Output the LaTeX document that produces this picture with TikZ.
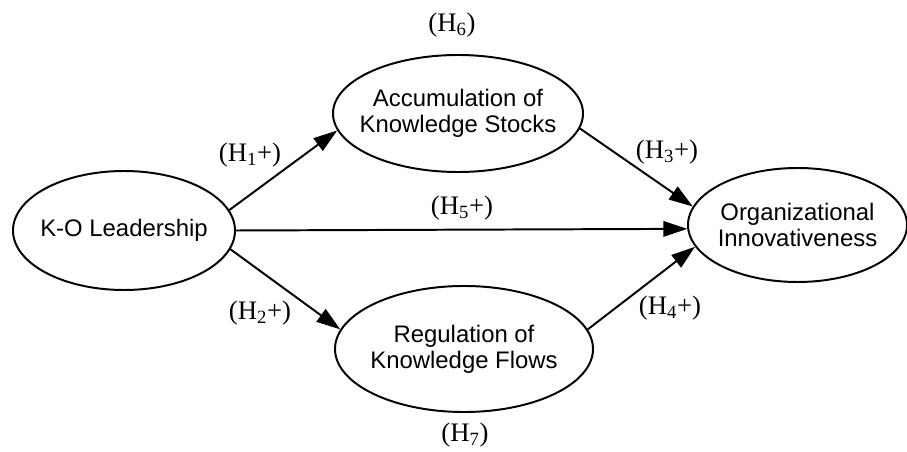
\documentclass[tikz,border=0pt]{standalone}
\usepackage{fontspec}
\setmainfont{Liberation Serif}
\setsansfont{Liberation Sans}
\usetikzlibrary{arrows.meta,shapes.geometric}

\tikzset{
    oval/.style={ellipse, draw, line width=1.4pt, inner sep=0pt},
    ovaltext/.style={align=center, font=\sffamily\fontsize{17}{18.5}\selectfont},
    hyp/.style={inner sep=0pt, font=\fontsize{19}{21}\selectfont},
    link/.style={line width=1.4pt, -{Triangle[length=17pt,width=11pt]}},
}

\begin{document}
\begin{tikzpicture}[x=0.025cm,y=-0.025cm]
    \pgfmathsetmacro{\px}{0.025}
    % Define centres
    \coordinate (cK) at (124,230.5);
    \coordinate (cA) at (458,113.5);
    \coordinate (cO) at (797.5,225);
    \coordinate (cR) at (464,349);
    \useasboundingbox (0,0) rectangle (907,452);

    % Draw ovals and their texts
    \foreach \c/\w/\h/\t in {K/222/119/{K-O Leadership},
            A/250/117/{Accumulation of\\Knowledge Stocks},
            O/219/114/{Organizational\\Innovativeness},
            R/258/126/{Regulation of\\Knowledge Flows}} {
        \node[oval, minimum width={\w*\px*1cm}, minimum height={\h*\px*1cm}] (\c) at (c\c) {};
        \node[ovaltext] (\c t) at (c\c) {\t};
    }

    % Draw paths
    \draw[link] (K.11) -- (A.188);
    \draw[link] (K.350) -- (R.171);
    \draw[link] (K.0) -- (O.182);
    \draw[link] (A.353) -- (O.170);
    \draw[link] (R.9) -- (O.192);

    % Hypotheses
    \foreach \n/\x/\y/\t in {h1/250/155/{(H\textsubscript{1}+)},
            h2/260/313/{(H\textsubscript{2}+)},
            h3/667/152/{(H\textsubscript{3}+)},
            h4/670/308/{(H\textsubscript{4}+)},
            h5/462/208/{(H\textsubscript{5}+)},
            h6/452/25/{(H\textsubscript{6})},
            h7/465/435/{(H\textsubscript{7})}} {
        \node[hyp] (\n) at (\x,\y) {\t};
    }
\end{tikzpicture}
\end{document}
